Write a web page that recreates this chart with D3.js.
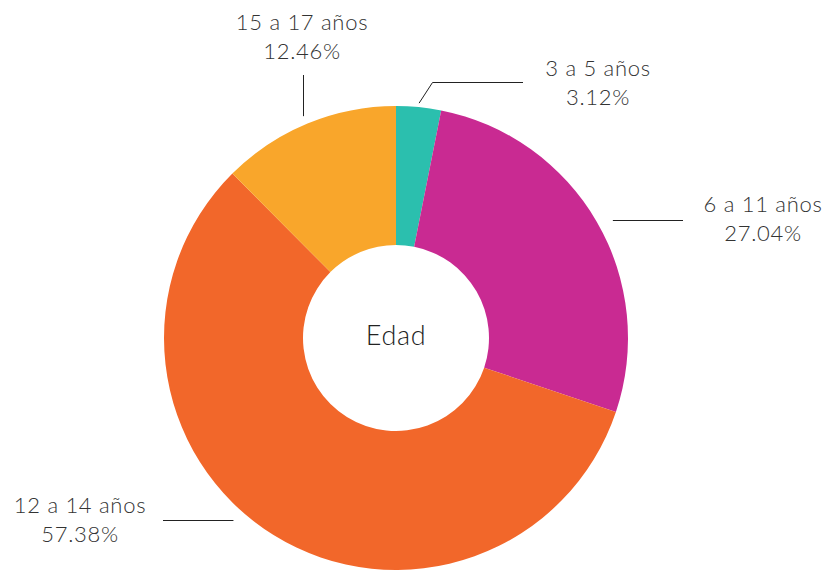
<!DOCTYPE html>
<html>
<head>
<meta charset="utf-8">
<script src="https://cdn.jsdelivr.net/npm/d3@7"></script>
<style>
  body { margin: 0; background: #fff; }
  .lbl { font-family: "Lato", "Open Sans", sans-serif; font-weight: 300; fill: #333; letter-spacing: 0.7px; }
</style>
</head>
<body>
<div id="chart"></div>
<script>
// data
var categories = ["3 a 5 años", "6 a 11 años", "12 a 14 años", "15 a 17 años"];
var values = [3.12, 27.04, 57.38, 12.46];
var colors = ["#2bbfae", "#c92a92", "#f2672a", "#f9a62b"];

var width = 829, height = 570;
var cx = 396, cy = 338;
var outerR = 232, innerR = 93;

// label layout: text centre / baseline, leader start radius, bend and end
var layout = [
  { x: 598, y: 76, r: 236, adj: 0, pts: [[432.5, 82.5], [523, 82.5]] },
  { x: 763, y: 212, r: 247, adj: 1.5, pts: [[683, 220.5]] },
  { x: 80, y: 513, r: 246, adj: 9.5, pts: [[163, 520.5]] },
  { x: 302, y: 30, r: 240, adj: 0, pts: [[303.5, 75]] }
];

var svg = d3.select("#chart").append("svg")
  .attr("width", width)
  .attr("height", height);

var g = svg.append("g")
  .attr("transform", "translate(" + cx + "," + cy + ")");

var data = categories.map(function(c, i) { return { label: c, num: values[i], color: colors[i] }; });

var pie = d3.pie()
  .sort(null)
  .value(function(d) { return d.num; });

var arc = d3.arc()
  .outerRadius(outerR)
  .innerRadius(innerR);

var arcs = pie(data);

g.selectAll(".arc")
  .data(arcs)
  .enter().append("path")
  .attr("class", "arc")
  .attr("d", arc)
  .style("fill", function(d) { return d.data.color; });

// leader lines + labels
arcs.forEach(function(d, i) {
  var L = layout[i];
  var a = (d.startAngle + d.endAngle) / 2 + L.adj * Math.PI / 180;
  var start = [cx + L.r * Math.sin(a), cy - L.r * Math.cos(a)];
  var pts = [start];
  // single segment leaders run straight across or straight up
  if (L.pts.length === 1) {
    var p = L.pts[0];
    if (Math.abs(p[0] - start[0]) < 5) start[0] = p[0];
    else start[1] = p[1];
  }
  L.pts.forEach(function(p) { pts.push(p); });

  svg.append("path")
    .attr("d", d3.line()(pts))
    .attr("fill", "none")
    .attr("stroke", "#222")
    .attr("stroke-width", 1);

  var t = svg.append("text")
    .attr("class", "lbl")
    .attr("text-anchor", "middle")
    .style("font-size", "22px");
  t.append("tspan").attr("x", L.x).attr("y", L.y).text(d.data.label);
  t.append("tspan").attr("x", L.x).attr("y", L.y + 29).text(d3.format(".2f")(d.data.num) + "%");
});

g.append("text")
  .attr("class", "lbl")
  .attr("text-anchor", "middle")
  .attr("y", 7)
  .style("font-size", "27px")
  .style("fill", "#222")
  .text("Edad");
</script>
</body>
</html>
